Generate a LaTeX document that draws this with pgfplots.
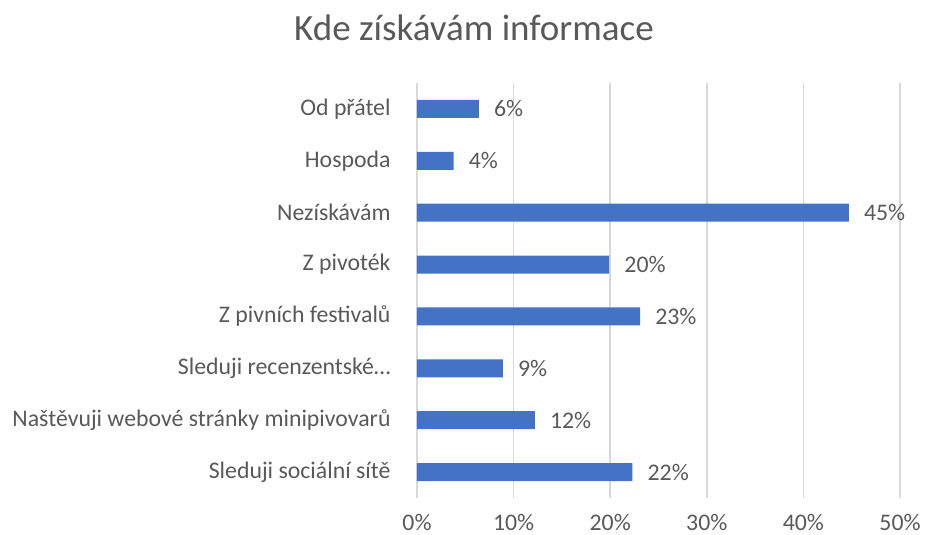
\documentclass[border=0pt]{standalone}
\usepackage{pgfplots}
\pgfplotsset{compat=1.18}
\usepackage{fontspec}
\setmainfont{Carlito}
\definecolor{barblue}{HTML}{4472C4}
\definecolor{txt}{HTML}{595959}
\definecolor{gridc}{HTML}{D9D9D9}
\begin{document}
\begin{tikzpicture}
\begin{axis}[
  name=ax,
  xbar,
  scale only axis,
  width=483pt, height=415pt,
  xmin=0, xmax=50, ymin=-0.5, ymax=7.5,
  xtick={0,10,20,30,40,50},
  ytick={0,1,2,3,4,5,6,7},
  yticklabels={Sleduji sociální sítě, Naštěvuji webové stránky minipivovarů, Sleduji recenzentské…, Z pivních festivalů, Z pivoték, Nezískávám, Hospoda, Od přátel},
  /pgf/number format/assume math mode=true,
  xticklabel={\pgfmathprintnumber{\tick}\%},
  axis line style={draw=none},
  major tick style={draw=none},
  xmajorgrids,
  grid style={gridc, line width=1.6pt},
  tick label style={font=\fontsize{23.8}{28}\selectfont, text=txt},
  yticklabel style={anchor=east, inner sep=0pt, xshift=-22pt},
  xticklabel style={anchor=north, inner sep=0pt, yshift=-16pt},
  title={Kde získávám informace},
  title style={font=\fontsize{37}{44}\selectfont, text=txt, at={(0.118,1)}, anchor=base, inner sep=0pt, yshift=36pt},
  bar width=18pt,
  nodes near coords={\pgfmathprintnumber[fixed,precision=0]{\pgfplotspointmeta}\%},
  nodes near coords style={font=\fontsize{23.8}{28}\selectfont, text=txt, anchor=west, inner sep=0pt, xshift=15pt},
]
\addplot[fill=barblue, draw=none] coordinates {
  (22.3,0) (12.2,1) (8.9,2) (23.1,3) (19.9,4) (44.7,5) (3.8,6) (6.4,7)
};
\end{axis}
\pgfresetboundingbox
\path[use as bounding box] ([xshift=-417pt,yshift=-37pt]ax.south west) rectangle ([xshift=26pt,yshift=83pt]ax.north east);
\end{tikzpicture}
\end{document}
